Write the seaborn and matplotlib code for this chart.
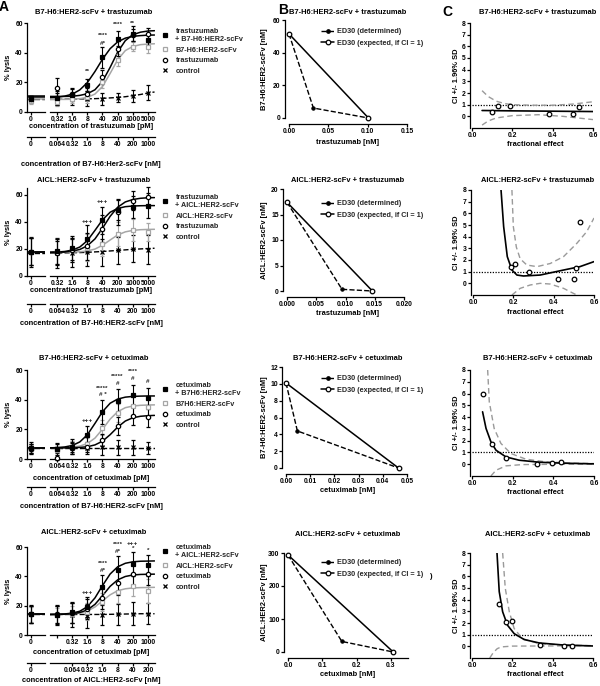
import matplotlib
matplotlib.use('Agg')
import matplotlib.pyplot as plt
import matplotlib.ticker as ticker
from matplotlib.lines import Line2D
import seaborn as sns

# ---------------- data: panel A (lysis curves) ----------------
titles = ['B7-H6:HER2-scFv + trastuzumab', 'AICL:HER2-scFv + trastuzumab',
          'B7-H6:HER2-scFv + cetuximab', 'AICL:HER2-scFv + cetuximab']

conc_tras = [0.32, 1.6, 8, 40, 200, 1000, 5000]
conc_cetux = [0.064, 0.32, 1.6, 8, 40, 200, 1000]
fit_x_tras = [0.15, 0.32, 0.72, 1.6, 3.6, 8, 18, 40, 90, 200, 450, 1000, 2240, 5000, 10000]
fit_x_cetux = [0.031, 0.064, 0.144, 0.32, 0.72, 1.6, 3.6, 8, 18, 40, 90, 200, 450, 1000, 2000]

# first value of every point series = concentration 0
r1_combo = [9.0, 9.4, 11.2, 18.4, 37.0, 49.4, 52.8, 48.8]
r1_combo_sd = [2, 5, 4, 4, 7, 5, 5, 4]
r1_single = [7.5, 7.0, 9.0, 10.0, 20.0, 35.0, 44.0, 43.5]
r1_single_sd = [2, 3, 3, 4, 4, 4, 3, 4]
r1_mab = [9.0, 16.0, 12.0, 12.0, 23.6, 42.7, 52.0, 52.8]
r1_mab_sd = [2, 7, 4, 4, 5, 5, 4, 4]
r1_ctrl = [9.0, 9.0, 9.0, 9.0, 9.0, 9.5, 10.5, 13.0]
r1_ctrl_sd = [2, 4, 4, 5, 4, 3, 4, 5]
r1_combo_fit = [9.8, 10.0, 10.7, 12.0, 14.9, 19.8, 27.3, 35.6, 42.7, 47.3, 49.8, 51.0, 51.5, 51.8, 51.9]
r1_single_fit = [8.5, 8.5, 8.5, 8.6, 9.0, 9.9, 12.1, 17.2, 26.0, 35.2, 41.4, 44.2, 45.4, 45.8, 46.0]
r1_mab_fit = [10.5, 10.5, 10.5, 10.6, 11.2, 12.3, 15.0, 20.7, 30.1, 40.4, 48.1, 52.1, 53.8, 54.6, 54.8]
r1_ctrl_fit = [8.5, 8.5, 8.6, 8.7, 8.8, 8.9, 9.0, 9.2, 9.5, 9.8, 10.3, 11.0, 11.8, 12.8, 13.5]

r2_combo = [18.0, 18.2, 20.5, 27.5, 41.0, 49.0, 51.0, 52.0]
r2_combo_sd = [10, 9, 9, 10, 10, 8, 8, 9]
r2_single = [18.0, 18.0, 19.0, 21.0, 24.0, 31.0, 34.0, 32.5]
r2_single_sd = [10, 9, 9, 10, 9, 9, 8, 7]
r2_mab = [18.0, 17.0, 19.0, 22.0, 35.0, 47.0, 55.5, 58.5]
r2_mab_sd = [10, 9, 9, 10, 10, 9, 7, 7]
r2_ctrl = [17.5, 17.0, 17.0, 17.5, 17.5, 19.0, 20.0, 19.5]
r2_ctrl_sd = [11, 11, 10, 10, 10, 10, 10, 11]
r2_combo_fit = [17.5, 17.7, 18.1, 19.1, 21.4, 26.1, 33.7, 41.5, 47.1, 49.9, 51.2, 51.7, 51.9, 52.0, 52.0]
r2_single_fit = [17.5, 17.5, 17.5, 17.65, 17.9, 18.5, 19.9, 22.7, 26.6, 30.3, 32.6, 33.7, 34.2, 34.4, 34.5]
r2_mab_fit = [17.5, 17.6, 17.7, 18.4, 19.6, 22.3, 27.4, 35.3, 44.1, 50.8, 54.7, 56.5, 57.4, 57.8, 57.9]
r2_ctrl_fit = [17.0, 17.0, 17.1, 17.2, 17.3, 17.5, 17.8, 18.1, 18.5, 18.9, 19.3, 19.7, 20.0, 20.3, 20.5]

r3_combo = [7.2, 6.5, 8.3, 16.2, 31.9, 39.1, 43.1, 40.9]
r3_combo_sd = [4, 4, 5, 6, 8, 8, 7, 7]
r3_single = [6.5, 6.0, 8.0, 10.0, 21.1, 30.8, 35.7, 35.3]
r3_single_sd = [3, 3, 4, 4, 5, 6, 6, 6]
r3_mab = [7.0, 0.5, 7.5, 8.0, 12.8, 22.5, 29.0, 28.5]
r3_mab_sd = [3, 1, 3, 3, 4, 6, 6, 7]
r3_ctrl = [7.0, 7.0, 7.5, 7.5, 8.0, 8.0, 8.0, 7.5]
r3_ctrl_sd = [3, 3, 4, 4, 5, 5, 5, 4]
r3_combo_fit = [7.5, 7.7, 8.1, 9.1, 11.5, 16.3, 24.0, 31.9, 37.6, 40.4, 41.7, 42.2, 42.4, 42.5, 42.5]
r3_single_fit = [7.5, 7.55, 7.7, 8.0, 8.7, 10.4, 14.1, 20.1, 26.9, 31.9, 34.6, 35.7, 36.2, 36.4, 36.5]
r3_mab_fit = [7.5, 7.5, 7.5, 7.6, 7.8, 8.3, 9.5, 12.0, 16.4, 21.5, 25.6, 27.8, 28.8, 29.2, 29.4]
r3_ctrl_fit = [7.5, 7.5, 7.5, 7.5, 7.5, 7.5, 7.5, 7.5, 7.5, 7.5, 7.5, 7.5, 7.5, 7.5, 7.5]

r4_combo = [14.5, 13.5, 15.4, 19.0, 32.6, 44.6, 48.5, 47.5]
r4_combo_sd = [6, 6, 7, 7, 8, 9, 8, 7]
r4_single = [14.0, 13.5, 14.0, 16.0, 22.6, 29.0, 33.5, 29.9]
r4_single_sd = [5, 5, 6, 6, 6, 7, 7, 8]
r4_mab = [14.0, 14.0, 15.0, 17.7, 24.9, 35.5, 41.9, 41.4]
r4_mab_sd = [6, 6, 7, 7, 7, 8, 8, 7]
r4_ctrl = [14.0, 13.5, 13.5, 13.0, 13.5, 14.0, 14.5, 14.5]
r4_ctrl_sd = [6, 7, 8, 8, 7, 7, 8, 7]
r4_combo_fit = [14.0, 14.1, 14.35, 14.9, 16.2, 19.3, 25.3, 33.7, 41.6, 46.5, 48.9, 49.9, 50.3, 50.4, 50.5]
r4_single_fit = [14.0, 14.0, 14.1, 14.4, 15.0, 16.3, 19.1, 23.3, 27.4, 30.2, 31.5, 32.1, 32.3, 32.4, 32.5]
r4_mab_fit = [14.0, 14.05, 14.2, 14.5, 15.3, 17.1, 20.9, 26.8, 33.2, 37.6, 39.9, 40.9, 41.3, 41.4, 41.5]
r4_ctrl_fit = [14.0, 14.0, 14.0, 14.0, 14.0, 14.0, 14.0, 14.0, 14.1, 14.2, 14.3, 14.4, 14.5, 14.5, 14.5]

legend_labels = [
    ['trastuzumab\n+ B7-H6:HER2-scFv', 'B7-H6:HER2-scFv', 'trastuzumab', 'control'],
    ['trastuzumab\n+ AICL:HER2-scFv', 'AICL:HER2-scFv', 'trastuzumab', 'control'],
    ['cetuximab\n+ B7H6:HER2-scFv', 'B7H6:HER2-scFv', 'cetuximab', 'control'],
    ['cetuximab\n+ AICL:HER2-scFv', 'AICL:HER2-scFv', 'cetuximab', 'control'],
]
main_labels = [
    ['0,32', '1,6', '8', '40', '200', '1000', '5000'],
    ['0.32', '1.6', '8', '40', '200', '1000', '5000'],
    ['0.064', '0.32', '1.6', '8', '40', '200', '1000'],
    ['', '0.32', '1.6', '8', '40', '200', '1000'],
]
sec_pos = [conc_tras, conc_tras, conc_cetux, conc_cetux[1:]]
sec_labels = [
    ['0.064', '0.32', '1.6', '8', '40', '200', '1000'],
    ['0.064', '0.32', '1.6', '8', '40', '200', '1000'],
    ['0.064', '0.32', '1.6', '8', '40', '200', '1000'],
    ['0.064', '0.32', '1.6', '8', '40', '200'],
]
main_xlabels = ['concentration of trastuzumab [pM]', 'concentrationof trastuzumab [pM]',
                'concentration of cetuximab [pM]', 'concentration of cetuximab [pM]']
sec_xlabels = ['concentration of B7-H6:Her2-scFv [nM]', 'concentration of B7-H6:HER2-scFv [nM]',
               'concentration of B7-H6:HER2-scFv [nM]', 'concentration of AICL:HER2-scFv [nM]']

ann_x = [[8, 40, 40, 200, 1000],
         [8, 40],
         [1.6, 8, 8, 40, 40, 200, 200, 1000],
         [1.6, 8, 8, 40, 40, 200, 200, 1000]]
ann_y = [[27.4, 51.5, 46.5, 58.9, 60],
         [40, 55],
         [25.8, 47.5, 43.2, 55.5, 50.6, 59.2, 54.6, 52.1],
         [29, 48.5, 43.8, 61.8, 57.2, 62.3, 58.7, 57.7]]
ann_txt = [['**', '****', '#*', '****', '**'],
           ['+++', '+++'],
           ['+++', '*****', '# *', '*****', '#', '****', '#', '#'],
           ['+++', '****', '#*', '****', '#*', '+++', '*', '*']]

# ---------------- data: panel B (isobolograms) ----------------
iso_xlabels = ['trastuzumab [nM]', 'trastuzumab [nM]', 'cetuximab [nM]', 'cetuximab [nM]']
iso_ylabels = ['B7-H6:HER2-scFv [nM]', 'AICL:HER2-scFv [nM]', 'B7-H6:HER2-scFv [nM]', 'AICL:HER2-scFv [nM]']
iso_det_x = [[0, 0.031, 0.101], [0, 0.0094, 0.0146], [0, 0.0047, 0.0465], [0, 0.157, 0.307]]
iso_det_y = [[51.5, 6.1, 0], [17.4, 0.33, 0], [10.1, 4.4, 0], [294, 32, 0]]
iso_exp_x = [[0, 0.101], [0, 0.0146], [0, 0.0465], [0, 0.307]]
iso_exp_y = [[51.5, 0], [17.4, 0], [10.1, 0], [294, 0]]
iso_xticks = [[0, 0.05, 0.10, 0.15], [0, 0.005, 0.010, 0.015, 0.020],
              [0, 0.01, 0.02, 0.03, 0.04, 0.05], [0, 0.1, 0.2, 0.3]]
iso_xfmt = ['%.2f', '%.3f', '%.2f', '%.1f']
iso_yticks = [[0, 20, 40, 60], [0, 5, 10, 15, 20], [0, 2, 4, 6, 8, 10, 12], [0, 100, 200, 300]]

# ---------------- data: panel C (combination index) ----------------
ci_pts_x = [[0.10, 0.13, 0.19, 0.38, 0.50, 0.53],
            [0.19, 0.21, 0.28, 0.42, 0.50, 0.51, 0.53],
            [0.052, 0.098, 0.167, 0.322, 0.392, 0.436],
            [0.132, 0.168, 0.20, 0.336, 0.457, 0.495]]
ci_pts_y = [[0.34, 0.85, 0.9, 0.23, 0.23, 0.8],
            [1.43, 1.66, 1.0, 0.34, 0.34, 1.29, 5.23],
            [5.96, 1.70, 0.54, 0.06, 0.09, 0.17],
            [3.6, 2.1, 2.2, 0.12, 0.03, 0.06]]
ci_fit_x = [[0.05, 0.2, 0.4, 0.6],
            [0.139, 0.152, 0.17, 0.193, 0.218, 0.25, 0.333, 0.449, 0.53, 0.6],
            [0.052, 0.069, 0.093, 0.118, 0.167, 0.232, 0.33, 0.444, 0.6],
            [0.124, 0.135, 0.152, 0.176, 0.209, 0.259, 0.333, 0.448, 0.6]]
ci_fit_y = [[0.5, 0.47, 0.44, 0.41],
            [8, 4.86, 2.29, 1.14, 0.71, 0.63, 0.71, 1.14, 1.43, 1.86],
            [4.45, 3.04, 1.9, 1.19, 0.62, 0.34, 0.17, 0.09, 0.03],
            [8, 4.69, 2.96, 1.81, 1.09, 0.58, 0.29, 0.12, 0.03]]
ci_up_x = [[0.05, 0.08, 0.12, 0.16, 0.2, 0.3, 0.4, 0.5, 0.6],
           [0.193, 0.2, 0.215, 0.234, 0.267, 0.317, 0.383, 0.449, 0.515, 0.564, 0.6],
           [0.077, 0.085, 0.109, 0.142, 0.191, 0.265, 0.363, 0.493, 0.6],
           [0.152, 0.165, 0.185, 0.209, 0.25, 0.333, 0.481, 0.6]]
ci_up_y = [[2.2, 1.7, 1.3, 1.1, 1.0, 0.95, 0.95, 1.05, 1.25],
           [8, 4.86, 3.1, 2.1, 1.57, 1.43, 1.7, 2.29, 3.43, 4.43, 5.6],
           [8, 5.3, 3.04, 1.77, 0.91, 0.43, 0.2, 0.09, 0.06],
           [8, 4.98, 2.96, 1.53, 0.66, 0.23, 0.09, 0.06]]
ci_lo_x = [[0.05, 0.08, 0.12, 0.2, 0.33, 0.45, 0.6],
           [0.193, 0.234, 0.284, 0.333, 0.383, 0.449, 0.498, 0.515],
           [0.093, 0.118, 0.167, 0.248, 0.444, 0.6],
           [0.088, 0.105, 0.125, 0.145, 0.2, 0.6]]
ci_lo_y = [[-0.75, -0.4, -0.14, 0.06, 0.14, 0.0, -0.28],
           [-1.0, -0.43, -0.14, 0.0, -0.06, -0.43, -0.86, -1.0],
           [-1.0, -0.51, -0.14, -0.03, 0.0, 0.0],
           [-1.0, -0.55, -0.2, -0.05, 0.02, 0.05]]

# ---------------- style ----------------
sns.set_theme(style='ticks')
plt.rcParams['font.family'] = ['Liberation Sans', 'DejaVu Sans']
plt.rcParams['font.weight'] = 'bold'
plt.rcParams['axes.linewidth'] = 0.9
for k in ['xtick', 'ytick']:
    plt.rcParams[k + '.major.width'] = 0.9
    plt.rcParams[k + '.major.size'] = 2.0
    plt.rcParams[k + '.major.pad'] = 1.0
    plt.rcParams[k + '.labelsize'] = 4.9
    plt.rcParams[k + '.color'] = 'black'
    plt.rcParams[k + '.labelcolor'] = 'black'
plt.rcParams['axes.edgecolor'] = 'black'

GRAY = '#a6a6a6'
DGRAY = '#9a9a9a'
W, H = 600, 686
fig = plt.figure(figsize=(W / 100, H / 100), dpi=100)


def box(x0, x1, y0, y1):
    return [x0 / W, 1 - y1 / H, (x1 - x0) / W, (y1 - y0) / H]


def label(x, y, s, **kw):
    kw.setdefault('ha', 'center')
    kw.setdefault('va', 'center')
    kw.setdefault('fontsize', 5.4)
    fig.text(x / W, 1 - y / H, s, fontweight='bold', color='black', **kw)


styles = [
    dict(marker='s', mfc='black', mec='black', ms=2.8, color='black', ls='-'),
    dict(marker='s', mfc='white', mec=GRAY, ms=3.1, color=GRAY, ls='-'),
    dict(marker='o', mfc='white', mec='black', ms=3.1, color='black', ls='-'),
    dict(marker='x', mfc='black', mec='black', ms=2.2, color='black', ls='--'),
]

rows = [
    dict(conc=conc_tras, fx=fit_x_tras, ylim=(0, 60),
         series=[(r1_combo, r1_combo_sd, r1_combo_fit), (r1_single, r1_single_sd, r1_single_fit),
                 (r1_mab, r1_mab_sd, r1_mab_fit), (r1_ctrl, r1_ctrl_sd, r1_ctrl_fit)]),
    dict(conc=conc_tras, fx=fit_x_tras, ylim=(0, 65),
         series=[(r2_combo, r2_combo_sd, r2_combo_fit), (r2_single, r2_single_sd, r2_single_fit),
                 (r2_mab, r2_mab_sd, r2_mab_fit), (r2_ctrl, r2_ctrl_sd, r2_ctrl_fit)]),
    dict(conc=conc_cetux, fx=fit_x_cetux, ylim=(0, 60),
         series=[(r3_combo, r3_combo_sd, r3_combo_fit), (r3_single, r3_single_sd, r3_single_fit),
                 (r3_mab, r3_mab_sd, r3_mab_fit), (r3_ctrl, r3_ctrl_sd, r3_ctrl_fit)]),
    dict(conc=conc_cetux, fx=fit_x_cetux, ylim=(0, 60),
         series=[(r4_combo, r4_combo_sd, r4_combo_fit), (r4_single, r4_single_sd, r4_single_fit),
                 (r4_mab, r4_mab_sd, r4_mab_fit), (r4_ctrl, r4_ctrl_sd, r4_ctrl_fit)]),
]

row_px = [(23, 112), (188, 276), (370, 459), (547, 635)]
title_y = [13, 180, 359, 533]
xlab_y = [127, 290, 478, 652]
sec_off = [25, 28, 28, 28]
secxlab_y = [164, 324, 506, 681]
leg_top = [28, 194, 382, 544]

# ---------------- panel A ----------------
for i, row in enumerate(rows):
    top, bot = row_px[i]
    hpx = bot - top
    ax0 = fig.add_axes(box(27, 45, top, bot))
    ax1 = fig.add_axes(box(50, 155, top, bot))
    for ax in (ax0, ax1):
        ax.set_facecolor('none')
        ax.set_ylim(*row['ylim'])
        for s in ['top', 'right']:
            ax.spines[s].set_visible(False)
    ax1.spines['left'].set_visible(False)
    ax1.tick_params(axis='y', left=False, labelleft=False)
    ax0.set_yticks([0, 20, 40, 60])
    ax0.set_xlim(-0.22, 0.78)
    ax0.set_xticks([0], ['0'])
    ax1.set_xscale('log')
    conc = row['conc']
    ax1.set_xlim(conc[0] / 2.1, conc[-1] * 2.1)
    ax1.set_xticks(conc, main_labels[i])
    ax1.xaxis.set_minor_locator(ticker.NullLocator())

    for j in [3, 1, 2, 0]:
        vals, sd, fit = row['series'][j]
        st = styles[j]
        lw = 1.0 if j == 3 else 1.1
        ax0.axhline(fit[0], color=st['color'], ls=st['ls'], lw=lw, zorder=2)
        sns.lineplot(x=row['fx'], y=fit, ax=ax1, color=st['color'], linestyle=st['ls'],
                     linewidth=lw, zorder=2)
        for ax, xs, ys, es in ((ax0, [0], vals[:1], sd[:1]), (ax1, conc, vals[1:], sd[1:])):
            ax.errorbar(xs, ys, yerr=es, fmt=st['marker'], ms=st['ms'], mfc=st['mfc'],
                        mec=st['mec'], mew=0.9, ecolor=st['color'], elinewidth=0.8,
                        capsize=1.3, capthick=0.8, zorder=4, clip_on=False)

    for x, y, t in zip(ann_x[i], ann_y[i], ann_txt[i]):
        ax1.text(x, y, t, ha='center', va='center', fontsize=4.6, fontweight='bold')

    loc = -sec_off[i] / hpx
    s0 = ax0.secondary_xaxis(loc)
    s0.set_ticks([0], ['0'])
    s1 = ax1.secondary_xaxis(loc)
    s1.set_ticks(sec_pos[i], sec_labels[i])
    s1.xaxis.set_minor_locator(ticker.NullLocator())

    label(9, (top + bot) / 2, '% lysis', rotation=90)
    label(94, title_y[i], titles[i])
    label(91, xlab_y[i], main_xlabels[i])
    label(91, secxlab_y[i], sec_xlabels[i])

    handles = [Line2D([], [], ls='none', marker=st['marker'], mfc=st['mfc'], mec=st['mec'],
                      ms=st['ms'], mew=0.9) for st in styles]
    fig.legend(handles, legend_labels[i], loc='upper left',
               bbox_to_anchor=(161 / W, 1 - leg_top[i] / H), frameon=False, fontsize=5.2,
               handlelength=1.0, handletextpad=1.0, labelspacing=0.5, borderpad=0,
               borderaxespad=0)

# ---------------- panel B ----------------
b_px = [(289, 407, 20, 118), (287, 404, 189, 291), (286, 407, 367, 468), (288, 408, 553, 652)]
b_xlim = [(0, 0.15), (0, 0.02), (0, 0.05), (0, 0.35)]
b_title_y = [13, 180, 359, 534]
b_xlab_y = [143, 313, 491, 675]
b_leg_top = [28, 200, 375, 559]
for i in range(4):
    ax = fig.add_axes(box(*b_px[i]))
    ax.set_facecolor('none')
    for s in ['top', 'right']:
        ax.spines[s].set_visible(False)
    ax.spines['left'].set_position(('outward', 3))
    ax.spines['bottom'].set_position(('outward', 4))
    sns.lineplot(x=iso_det_x[i], y=iso_det_y[i], ax=ax, color='black', linestyle='--',
                 linewidth=1.0, marker='o', markersize=2.4, markerfacecolor='black',
                 markeredgecolor='black', zorder=3)
    sns.lineplot(x=iso_exp_x[i], y=iso_exp_y[i], ax=ax, color='black', linestyle='-',
                 linewidth=1.1, marker='o', markersize=3.3, markerfacecolor='white',
                 markeredgecolor='black', markeredgewidth=0.9, zorder=4)
    for ln in ax.lines:
        ln.set_clip_on(False)
    ax.set_xlim(*b_xlim[i])
    ax.set_ylim(iso_yticks[i][0], iso_yticks[i][-1])
    ax.set_xticks(iso_xticks[i])
    ax.xaxis.set_major_formatter(ticker.FormatStrFormatter(iso_xfmt[i]))
    ax.set_yticks(iso_yticks[i])
    ax.set_xlabel('')
    ax.set_ylabel('')
    x0, x1, y0, y1 = b_px[i]
    label(348, b_title_y[i], titles[i])
    label(348, b_xlab_y[i], iso_xlabels[i])
    label(265, (y0 + y1) / 2, iso_ylabels[i], rotation=90)
    handles = [Line2D([], [], color='black', ls='--', lw=1.0, marker='o', ms=2.4,
                      mfc='black', mec='black'),
               Line2D([], [], color='black', ls='-', lw=1.1, marker='o', ms=3.3,
                      mfc='white', mec='black', mew=0.9)]
    fig.legend(handles, ['ED30 (determined)', 'ED30 (expected, if CI = 1)'], loc='upper left',
               bbox_to_anchor=(321 / W, 1 - b_leg_top[i] / H), frameon=False, fontsize=5.2,
               handlelength=1.8, handletextpad=0.4, labelspacing=0.65, borderpad=0,
               borderaxespad=0)
label(431, 576, ')', fontsize=5.4)

# ---------------- panel C ----------------
c_px = [(472, 593, 23, 128), (473, 594, 190, 295), (472, 594, 370, 476), (472, 593, 553, 658)]
c_title_y = [13, 180, 359, 534]
c_xlab_y = [144, 312, 492, 674]
for i in range(4):
    ax = fig.add_axes(box(*c_px[i]))
    ax.set_facecolor('none')
    for s in ['top', 'right']:
        ax.spines[s].set_visible(False)
    ax.spines['left'].set_position(('outward', 1.5))
    ax.axhline(1, color='black', ls=(0, (1, 1.2)), lw=0.9, zorder=1)
    sns.lineplot(x=ci_up_x[i], y=ci_up_y[i], ax=ax, color=DGRAY, linestyle=(0, (4, 2.5)),
                 linewidth=1.0, zorder=2)
    sns.lineplot(x=ci_lo_x[i], y=ci_lo_y[i], ax=ax, color=DGRAY, linestyle=(0, (4, 2.5)),
                 linewidth=1.0, zorder=2)
    sns.lineplot(x=ci_fit_x[i], y=ci_fit_y[i], ax=ax, color='black', linewidth=1.2, zorder=3)
    ax.plot(ci_pts_x[i], ci_pts_y[i], 'o', ls='none', ms=3.3, mfc='white', mec='black',
            mew=0.9, zorder=4)
    ax.set_xlim(0, 0.6)
    ax.set_ylim(-1, 8)
    ax.set_xticks([0, 0.2, 0.4, 0.6])
    ax.xaxis.set_major_formatter(ticker.FormatStrFormatter('%.1f'))
    ax.set_yticks(range(0, 9))
    ax.set_xlabel('')
    ax.set_ylabel('')
    x0, x1, y0, y1 = c_px[i]
    label(538, c_title_y[i], titles[i])
    label(535, c_xlab_y[i], 'fractional effect')
    label(456, (y0 + y1) / 2, 'CI +/- 1.96% SD', rotation=90)

# panel letters
label(4, 7, 'A', fontsize=10)
label(283, 10, 'B', fontsize=10)
label(447, 12, 'C', fontsize=10)

fig.savefig('out.png', dpi=100)
